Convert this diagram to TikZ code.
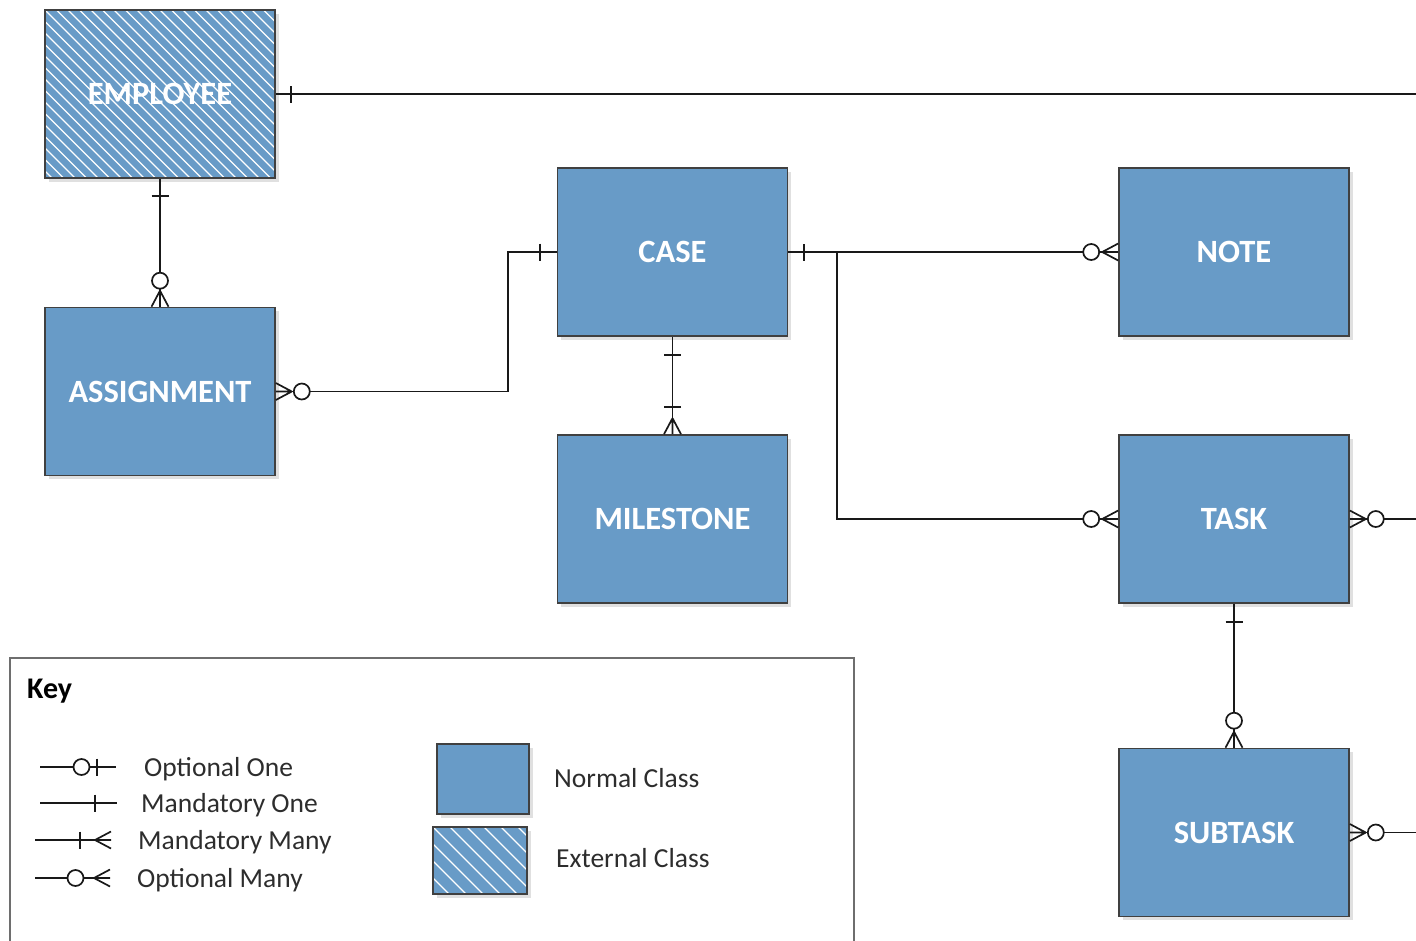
\documentclass[tikz,border=0pt]{standalone}
\usepackage{fontspec}
\setmainfont{Carlito}
\usetikzlibrary{shadows}

\definecolor{classblue}{RGB}{104,155,199}
\definecolor{edgegray}{RGB}{64,64,64}
\definecolor{framegray}{RGB}{110,110,110}
\definecolor{keytext}{RGB}{45,45,45}

\tikzset{
  conn/.style={draw=black!90, line width=1.7pt},
  boxbase/.style={draw=edgegray, line width=1.6pt, fill=classblue, inner sep=0pt,
    drop shadow={shadow xshift=3.5pt, shadow yshift=-3.5pt, fill=black, opacity=0.12}},
  entity/.style={boxbase, minimum width=230pt, minimum height=168pt, text=white,
    font=\fontsize{32.5}{38}\selectfont\bfseries},
  external/.style={path picture={
    \foreach \k in {-30,...,30}
      \draw[white, line width=1.2pt]
        ([xshift={\k*#1 pt}]path picture bounding box.north west) -- ++(320pt,-320pt);
  }},
  external/.default=11.5,
  keylabel/.style={anchor=west, inner sep=0pt, text=keytext,
    font=\fontsize{27.5}{32}\selectfont, text height=0.72em, text depth=0.22em},
  pics/tick/.style={code={\draw[conn] (#1pt,-8.5pt) -- (#1pt,8.5pt);}},
  pics/ocirc/.style={code={\draw[conn, fill=white] (#1pt,0pt) circle[radius=8pt];}},
  pics/crow/.style={code={\draw[conn] (16pt,0pt) -- (0pt,8.5pt) (16pt,0pt) -- (0pt,0pt)
    (16pt,0pt) -- (0pt,-8.5pt);}},
}

\begin{document}
\begin{tikzpicture}[x=1pt, y=-1pt]
\useasboundingbox (0,0) rectangle (1416,940);

% key frame (runs past the lower edge)
\draw[framegray, line width=1.5pt] (10,658) rectangle (854,970);
\node[anchor=west, inner sep=0pt, text=black, font=\fontsize{30}{34}\selectfont\bfseries,
  text height=0.72em, text depth=0.22em] (keytitle) at (27,696) {Key};

% entities
\node[entity, external] (employee)   at (160,94)     {EMPLOYEE};
\node[entity]           (assignment) at (160,391.5)  {ASSIGNMENT};
\node[entity]           (case)       at (672.5,252)  {CASE};
\node[entity]           (milestone)  at (672.5,519)  {MILESTONE};
\node[entity]           (note)       at (1234,252)   {NOTE};
\node[entity]           (task)       at (1234,519)   {TASK};
\node[entity]           (subtask)    at (1234,832.5) {SUBTASK};

% free ends and bends
\coordinate (employeeout) at (1416,94);
\coordinate (assignbend)  at (508,391.5);
\coordinate (casesplit)   at (837,252);
\coordinate (taskout)     at (1416,519);
\coordinate (subtaskout)  at (1416,832.5);

% relationships
\draw[conn] (employee.east) -- (employeeout);
\draw[conn] (employee.south) -- (assignment.north);
\draw[conn] (assignment.east) -- (assignbend) |- (case.west);
\draw[conn] (case.east) -- (note.west);
\draw[conn] (casesplit) |- (task.west);
\draw[conn] (case.south) -- (milestone.north);
\draw[conn] (task.east) -- (taskout);
\draw[conn] (task.south) -- (subtask.north);
\draw[conn] (subtask.east) -- (subtaskout);

% cardinality marks
\pic at (employee.east) {tick=15};
\pic[rotate=-90] at (employee.south) {tick=17};
\pic[rotate=90] at (assignment.north) {crow};
\pic[rotate=90] at (assignment.north) {ocirc=26};
\pic at (assignment.east) {crow};
\pic at (assignment.east) {ocirc=26};
\pic[rotate=180] at (case.west) {tick=17};
\pic at (case.east) {tick=16};
\pic[rotate=180] at (note.west) {crow};
\pic[rotate=180] at (note.west) {ocirc=27};
\pic[rotate=180] at (task.west) {crow};
\pic[rotate=180] at (task.west) {ocirc=27};
\pic[rotate=-90] at (case.south) {tick=18};
\pic[rotate=90] at (milestone.north) {crow};
\pic[rotate=90] at (milestone.north) {tick=27};
\pic at (task.east) {crow};
\pic at (task.east) {ocirc=26};
\pic[rotate=-90] at (task.south) {tick=18};
\pic[rotate=90] at (subtask.north) {crow};
\pic[rotate=90] at (subtask.north) {ocirc=27};
\pic at (subtask.east) {crow};
\pic at (subtask.east) {ocirc=26};

% key: cardinality symbols
\coordinate (oneoptA) at (40,767);  \coordinate (oneoptB) at (116,767);
\coordinate (onemanA) at (40,803);  \coordinate (onemanB) at (117,803);
\coordinate (manymanA) at (35,840); \coordinate (manymanB) at (111,840);
\coordinate (manyoptA) at (35,878); \coordinate (manyoptB) at (110,878);
\draw[conn] (oneoptA) -- (oneoptB);
\draw[conn] (onemanA) -- (onemanB);
\draw[conn] (manymanA) -- (manymanB);
\draw[conn] (manyoptA) -- (manyoptB);
\pic[rotate=180] at (oneoptB) {tick=19};
\pic[rotate=180] at (oneoptB) {ocirc=34.5};
\pic[rotate=180] at (onemanB) {tick=22};
\pic[rotate=180] at (manymanB) {crow};
\pic[rotate=180] at (manymanB) {tick=31};
\pic[rotate=180] at (manyoptB) {crow};
\pic[rotate=180] at (manyoptB) {ocirc=34.5};

\node[keylabel] (oneopt)  at (144,774) {Optional One};
\node[keylabel] (oneman)  at (141,810) {Mandatory One};
\node[keylabel] (manyman) at (138,847) {Mandatory Many};
\node[keylabel] (manyopt) at (137,885) {Optional Many};

% key: class swatches
\node[boxbase, minimum width=92pt, minimum height=70pt] (normalkey) at (483,779) {};
\node[boxbase, external=17, minimum width=94pt, minimum height=67pt] (externalkey) at (480,860.5) {};
\node[keylabel] (normaltext)   at (554,785) {Normal Class};
\node[keylabel] (externaltext) at (556,865) {External Class};
\end{tikzpicture}
\end{document}
